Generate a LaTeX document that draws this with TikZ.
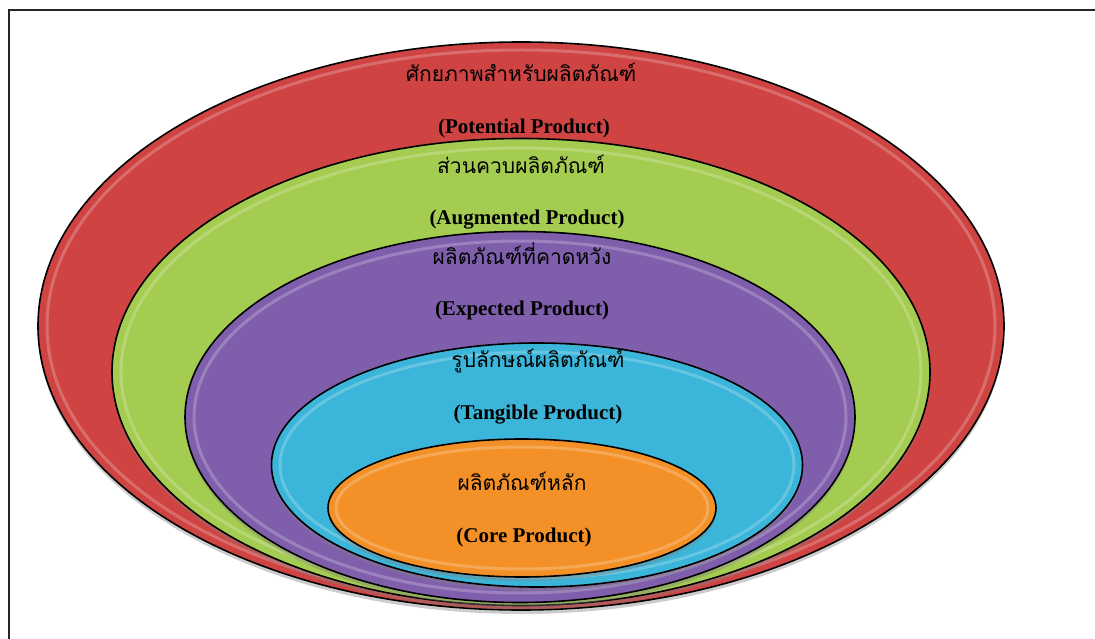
\documentclass[tikz,border=0pt]{standalone}
\usepackage{fontspec}
\setmainfont{Liberation Serif}
\newfontfamily\thaifont[Script=Thai]{Loma}
\usepackage{tikz}
\usetikzlibrary{shapes.geometric,shadows}

\definecolor{potred}{HTML}{CF4443}
\definecolor{auggreen}{HTML}{A4CC50}
\definecolor{exppurple}{HTML}{7F5FAC}
\definecolor{tancyan}{HTML}{3BB5D9}
\definecolor{coreorange}{HTML}{F39027}

\begin{document}
\begin{tikzpicture}[x=1pt,y=-1pt,
	ring/.style={ellipse,draw=black,line width=1.6pt,inner sep=0pt,
		drop shadow={shadow xshift=0pt,shadow yshift=-4pt,opacity=.4}},
	gloss/.style={draw=white,draw opacity=.22,line width=3pt},
	thai/.style={font=\thaifont\fontsize{21}{24}\selectfont},
	eng/.style={font=\bfseries\fontsize{21}{24}\selectfont}
	]
	\useasboundingbox (0,0) rectangle (1095,639);
	\fill[white] (0,0) rectangle (1095,639);
	\draw[line width=1.3pt,black!85] (1095,10) -- (9,10) -- (9,639);
	% rings, outside in
	\node[ring,fill=potred,minimum width=966pt,minimum height=568pt] (potential) at (521,326) {};
	\draw[gloss] (potential.center) ellipse [x radius=474pt,y radius=276pt];
	\node[ring,fill=auggreen,minimum width=818pt,minimum height=467pt] (augmented) at (521,372) {};
	\draw[gloss] (augmented.center) ellipse [x radius=400pt,y radius=224pt];
	\node[ring,fill=exppurple,minimum width=670pt,minimum height=371pt] (expected) at (520,417) {};
	\draw[gloss] (expected.center) ellipse [x radius=326pt,y radius=176pt];
	\node[ring,fill=tancyan,minimum width=531pt,minimum height=244pt] (tangible) at (537,465) {};
	\draw[gloss] (tangible.center) ellipse [x radius=257pt,y radius=113pt];
	\node[ring,fill=coreorange,minimum width=388pt,minimum height=138pt] (core) at (522,508) {};
	\draw[gloss] (core.center) ellipse [x radius=186pt,y radius=61pt];
	% labels
	\node[thai] (potTh) at (521,72) {ศักยภาพสำหรับผลิตภัณฑ์};
	\node[eng] (potEn) at (524,128) {(Potential Product)};
	\node[thai] (augTh) at (521,164) {ส่วนควบผลิตภัณฑ์};
	\node[eng] (augEn) at (527,220) {(Augmented Product)};
	\node[thai] (expTh) at (522,254) {ผลิตภัณฑ์ที่คาดหวัง};
	\node[eng] (expEn) at (522,310) {(Expected Product)};
	\node[thai] (tanTh) at (538,361) {รูปลักษณ์ผลิตภัณฑ์};
	\node[eng] (tanEn) at (538,415) {(Tangible Product)};
	\node[thai] (coreTh) at (522,481) {ผลิตภัณฑ์หลัก};
	\node[eng] (coreEn) at (524,537) {(Core Product)};
\end{tikzpicture}
\end{document}
